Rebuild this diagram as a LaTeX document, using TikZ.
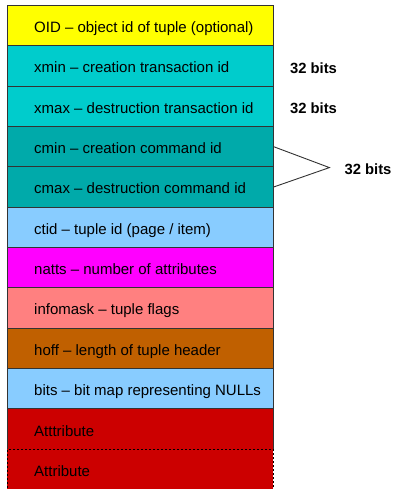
\documentclass[tikz,border=0pt]{standalone}
\usepackage{fontspec}
\setmainfont{Liberation Sans}
\usetikzlibrary{calc}

\definecolor{oidyellow}{HTML}{FFFF00}
\definecolor{xcyan}{HTML}{00CCCC}
\definecolor{cteal}{HTML}{00AAAA}
\definecolor{skyblue}{HTML}{88CCFF}
\definecolor{nattsmag}{HTML}{FF00FF}
\definecolor{flagpink}{HTML}{FF8080}
\definecolor{hoffbrown}{HTML}{C06000}
\definecolor{attrred}{HTML}{CC0000}
\definecolor{edge}{HTML}{333333}

\tikzset{
  field/.style={draw=edge, line width=0.9pt, fill=#1, rectangle, anchor=north west,
    minimum width=265.7pt, minimum height=40.35pt, inner sep=0pt},
  fieldtext/.style={anchor=base west, inner sep=0pt, font=\fontsize{15}{18}\selectfont},
  bitslabel/.style={anchor=base west, inner sep=0pt, font=\fontsize{14.8}{18}\selectfont\bfseries},
  brace/.style={draw=edge, line width=0.9pt},
  lastedge/.style={draw=black, line width=0.9pt, dash pattern=on 2pt off 2pt}
}

\begin{document}
\begin{tikzpicture}[x=1pt, y=1pt]
  \useasboundingbox (0,0) rectangle (392,-489);

  % tuple header fields, top to bottom
  \node[field=oidyellow] (oid)   at (7,-5)      {};
  \node[field=xcyan]     (xmin)  at (7,-45.35)  {};
  \node[field=xcyan]     (xmax)  at (7,-85.7)   {};
  \node[field=cteal]     (cmin)  at (7,-126.05) {};
  \node[field=cteal]     (cmax)  at (7,-166.4)  {};
  \node[field=skyblue]   (ctid)  at (7,-206.75) {};
  \node[field=nattsmag]  (natts) at (7,-247.1)  {};
  \node[field=flagpink]  (info)  at (7,-287.45) {};
  \node[field=hoffbrown] (hoff)  at (7,-327.8)  {};
  \node[field=skyblue]   (bits)  at (7,-368.15) {};
  % attribute data: first one solid on three sides, the following one dashed
  \node[field=attrred, draw=none] (att1) at (7,-408.5)  {};
  \draw[edge, line width=0.9pt] (att1.south west) -- (att1.north west) -- (att1.north east) -- (att1.south east);
  \node[field=attrred, lastedge] (att2) at (7,-448.85) {};

  % field descriptions
  \foreach \f/\t in {oid/{OID -- object id of tuple (optional)},
                     xmin/{xmin -- creation transaction id},
                     xmax/{xmax -- destruction transaction id},
                     cmin/{cmin -- creation command id},
                     cmax/{cmax -- destruction command id},
                     ctid/{ctid -- tuple id (page / item)},
                     natts/{natts -- number of attributes},
                     info/{infomask -- tuple flags},
                     hoff/{hoff -- length of tuple header},
                     bits/{bits -- bit map representing NULLs},
                     att1/{Atttribute},
                     att2/{Attribute}}
    \node[fieldtext] (\f-text) at ($(\f.north west)+(27,-27.5)$) {\t};

  % sizes of the transaction ids
  \node[bitslabel] (bxmin) at ($(xmin.north east)+(16.3,-27.9)$) {32 bits};
  \node[bitslabel] (bxmax) at ($(xmax.north east)+(16.3,-27.8)$) {32 bits};

  % bracket joining cmin and cmax
  \coordinate (tip) at ($(cmin.south east)+(55.8,-0.3)$);
  \draw[brace] (cmin.east) -- (tip) -- (cmax.east);
  \node[bitslabel] (bcmd) at ($(tip)+(15,-7.3)$) {32 bits};
\end{tikzpicture}
\end{document}
